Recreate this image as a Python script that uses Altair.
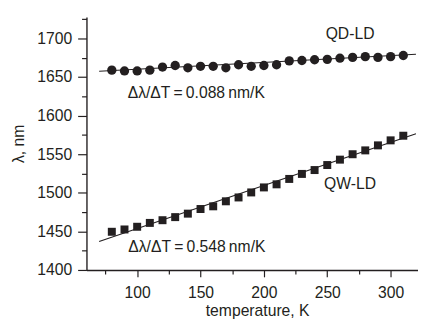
import altair as alt
import pandas as pd

temperature = [80, 90, 100, 110, 120, 130, 140, 150, 160, 170, 180, 190,
               200, 210, 220, 230, 240, 250, 260, 270, 280, 290, 300, 310]
qd_ld = [1659, 1658, 1658, 1659, 1663, 1665, 1662, 1664, 1664, 1662, 1666, 1664,
         1665, 1666, 1671, 1671.5, 1672.5, 1673, 1674.5, 1675.5, 1676.5, 1675.5, 1676.5, 1678]
qw_ld = [1449.5, 1452.5, 1456, 1461, 1464.5, 1468.5, 1473, 1479, 1482.5, 1489, 1494, 1500.5,
         1507, 1511, 1518, 1524.5, 1529.5, 1536, 1543, 1550, 1555, 1561.5, 1568, 1574]
fit_t = [70, 320]
fit_qd = [1657.5, 1679.5]
fit_qw = [1437, 1576.5]

labels_text = ["QD-LD", "QW-LD"]
labels_t = [268, 268]
labels_v = [1700, 1505]
slope_text = ["Δλ/ΔT\u2009=\u20090.088\u2009nm/K", "Δλ/ΔT\u2009=\u20090.548\u2009nm/K"]
slope_t = [92.5, 93]
slope_v = [1623, 1423.5]

x_ticks = [75, 100, 125, 150, 175, 200, 225, 250, 275, 300]
y_ticks = [1400, 1425, 1450, 1475, 1500, 1525, 1550, 1575, 1600, 1625, 1650, 1675, 1700, 1725]

pts = pd.DataFrame({"T": temperature, "QD": qd_ld, "QW": qw_ld})
fits = pd.DataFrame({"T": fit_t, "QD": fit_qd, "QW": fit_qw})
lab = pd.DataFrame({"T": labels_t, "v": labels_v, "text": labels_text})
slo = pd.DataFrame({"T": slope_t, "v": slope_v, "text": slope_text})

INK = "#231f20"
FONT = "Liberation Sans"
FS = 16

xscale = alt.Scale(domain=[60, 321.6], nice=False, zero=False)
yscale = alt.Scale(domain=[1400, 1728], nice=False, zero=False)

xaxis = alt.Axis(
    values=x_ticks, format="d",
    labelExpr="datum.value % 50 === 0 ? datum.label : ''",
    tickSize={"expr": "datum.value % 50 === 0 ? 7 : 4"},
    labelPadding=8, grid=False,
    title="temperature, K", titleX=174, titleY=46, titleBaseline="alphabetic",
    titleFontWeight="normal",
)
yaxis = alt.Axis(
    values=y_ticks, format="d",
    labelExpr="datum.value % 50 === 0 ? datum.label : ''",
    tickSize={"expr": "datum.value % 50 === 0 ? 9 : 5"},
    labelPadding=6, grid=False,
    title="λ, nm", titleAngle=270, titleX=-69, titleY=129, titleBaseline="middle",
    titleFontWeight="normal",
)

x = alt.X("T:Q", scale=xscale, axis=xaxis)
y_enc = lambda f: alt.Y(f"{f}:Q", scale=yscale, axis=yaxis)

line_qd = alt.Chart(fits).mark_line(color=INK, strokeWidth=1.1, clip=False).encode(x=x, y=y_enc("QD"))
line_qw = alt.Chart(fits).mark_line(color=INK, strokeWidth=1.1, clip=False).encode(x=x, y=y_enc("QW"))
circ = alt.Chart(pts).mark_point(shape="circle", filled=True, size=90, color=INK, opacity=1).encode(x=x, y=y_enc("QD"))
sq = alt.Chart(pts).mark_point(shape="square", filled=True, size=66, color=INK, opacity=1).encode(x=x, y=y_enc("QW"))
lab_ch = alt.Chart(lab).mark_text(font=FONT, fontSize=FS, color=INK, align="center", baseline="alphabetic").encode(
    x=x, y=alt.Y("v:Q", scale=yscale, axis=yaxis), text="text:N")
slo_ch = alt.Chart(slo).mark_text(font=FONT, fontSize=FS, color=INK, align="left", baseline="alphabetic").encode(
    x=x, y=alt.Y("v:Q", scale=yscale, axis=yaxis), text="text:N")

chart = alt.layer(line_qd, line_qw, circ, sq, lab_ch, slo_ch).properties(
    width=338, height=258,
    autosize=alt.AutoSizeParams(type="none"),
    padding={"left": 80, "top": 6, "right": 0, "bottom": 52},
).configure_view(stroke=None).configure_axis(
    labelFont=FONT, titleFont=FONT, labelFontSize=FS, titleFontSize=FS,
    labelColor=INK, titleColor=INK, domainColor=INK, tickColor=INK,
    domainWidth=1.4, tickWidth=1.2,
)

chart.save("out.html", embed_options={"renderer": "svg", "actions": False})
